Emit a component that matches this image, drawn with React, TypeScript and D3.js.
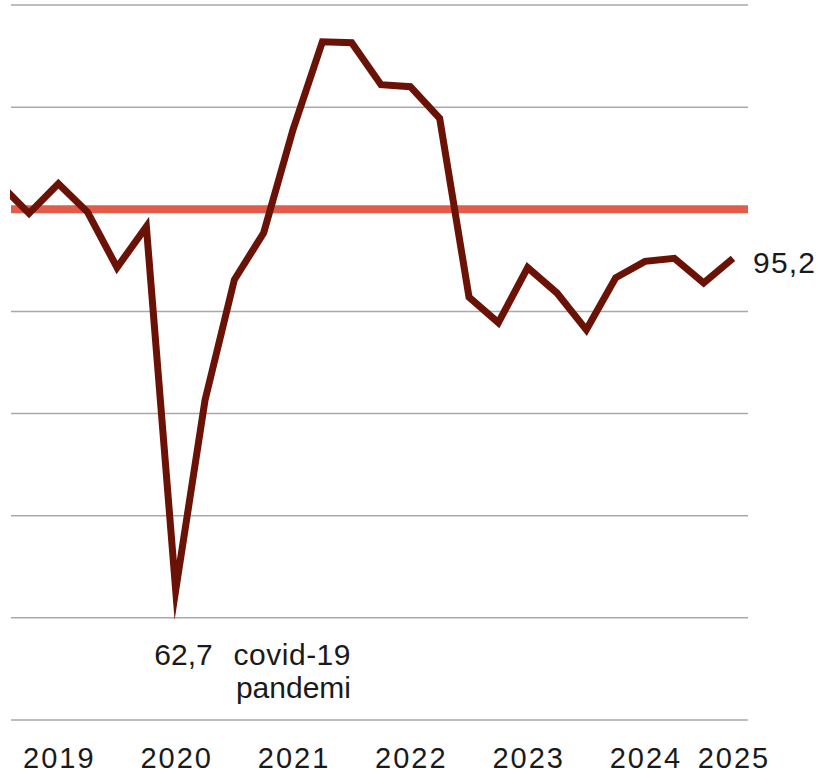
import React, { useEffect, useRef } from 'react';
import * as d3 from 'd3';

// quarterly index values, 2018 K4 .. 2025 K1
const quarters = [
  '2018K4',
  '2019K1', '2019K2', '2019K3', '2019K4',
  '2020K1', '2020K2', '2020K3', '2020K4',
  '2021K1', '2021K2', '2021K3', '2021K4',
  '2022K1', '2022K2', '2022K3', '2022K4',
  '2023K1', '2023K2', '2023K3', '2023K4',
  '2024K1', '2024K2', '2024K3', '2024K4',
  '2025K1',
];
const values = [
  102.5,
  99.6, 102.5, 99.7, 94.3,
  98.3, 62.7, 81.3, 93.1,
  97.7, 107.8, 116.4, 116.3,
  112.2, 112.0, 108.9, 91.4,
  88.9, 94.3, 91.8, 88.2,
  93.3, 94.9, 95.2, 92.8,
  95.2,
];
const yearLabels = ['2019', '2020', '2021', '2022', '2023', '2024', '2025'];
const yearAt = ['2019K2', '2020K2', '2021K2', '2022K2', '2023K2', '2024K2', '2025K1'];
const gridValues = [50, 60, 70, 80, 90, 100, 110, 120];
const refValue = 100;

const W = 820;
const H = 774;

export default function App() {
  const ref = useRef<SVGSVGElement>(null);

  useEffect(() => {
    const svg = d3.select(ref.current);
    svg.selectAll('*').remove();

    const data = quarters.map((q, i) => ({ q, i, v: values[i] }));

    const x = d3.scaleLinear().domain([0, quarters.length - 1]).range([-0.3, 733]);
    const y = d3.scaleLinear().domain([50, 120]).range([720, 5]);
    const font = '"Liberation Sans", Arial, sans-serif';

    // grid
    svg
      .append('g')
      .selectAll('line')
      .data(gridValues)
      .enter()
      .append('line')
      .attr('x1', 11)
      .attr('x2', 748)
      .attr('y1', d => y(d))
      .attr('y2', d => y(d))
      .attr('stroke', '#a9a9a9')
      .attr('stroke-width', 1.5);

    // 100 reference
    svg
      .append('line')
      .attr('x1', 11)
      .attr('x2', 748)
      .attr('y1', y(refValue))
      .attr('y2', y(refValue))
      .attr('stroke', '#e35b4b')
      .attr('stroke-width', 8);

    svg
      .append('clipPath')
      .attr('id', 'plot-clip')
      .append('rect')
      .attr('x', 10)
      .attr('y', 0)
      .attr('width', 760)
      .attr('height', 730);

    const line = d3
      .line<{ i: number; v: number }>()
      .x(d => x(d.i))
      .y(d => y(d.v));

    svg
      .append('path')
      .datum(data)
      .attr('clip-path', 'url(#plot-clip)')
      .attr('d', line)
      .attr('fill', 'none')
      .attr('stroke', '#6b1207')
      .attr('stroke-width', 7)
      .attr('stroke-linejoin', 'miter')
      .attr('stroke-miterlimit', 10);

    // year labels
    svg
      .append('g')
      .selectAll('text')
      .data(yearLabels)
      .enter()
      .append('text')
      .attr('x', (d, k) => x(quarters.indexOf(yearAt[k])) + 1)
      .attr('y', 768)
      .attr('text-anchor', 'middle')
      .attr('font-family', font)
      .attr('font-size', 29)
      .attr('letter-spacing', 2)
      .attr('fill', '#1a1a1a')
      .text(d => d);

    const minIdx = values.indexOf(d3.min(values) as number);
    const last = values.length - 1;
    const fmt = (v: number) => v.toFixed(1).replace('.', ',');

    const note = svg
      .append('g')
      .attr('font-family', font)
      .attr('font-size', 30)
      .attr('fill', '#1a1a1a');

    note
      .append('text')
      .attr('x', x(minIdx) + 37)
      .attr('y', 665)
      .attr('text-anchor', 'end')
      .text(fmt(values[minIdx]));
    note
      .append('text')
      .attr('x', 351)
      .attr('y', 665)
      .attr('text-anchor', 'end')
      .attr('letter-spacing', 0.5)
      .text('covid-19');
    note
      .append('text')
      .attr('x', 351)
      .attr('y', 698)
      .attr('text-anchor', 'end')
      .text('pandemi');

    note
      .append('text')
      .attr('x', x(last) + 20)
      .attr('y', 273)
      .attr('letter-spacing', 1.2)
      .text(fmt(values[last]));
  }, []);

  return (
    <svg
      ref={ref}
      width={W}
      height={H}
      style={{ position: 'absolute', left: 0, top: 0, background: '#fff' }}
    />
  );
}
